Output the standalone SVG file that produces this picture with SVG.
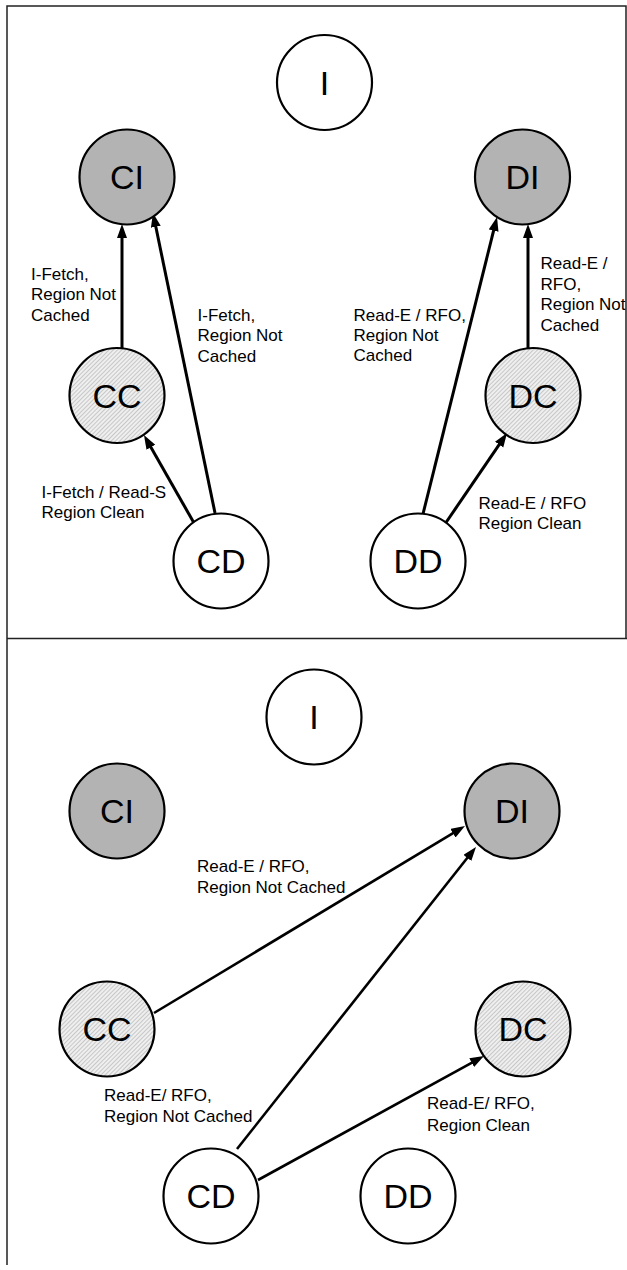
<svg xmlns="http://www.w3.org/2000/svg" width="627" height="1270" viewBox="0 0 627 1270">
<style>
.node{stroke:#000;stroke-width:2.2}
.white{fill:#fff}
.gray{fill:#b3b3b3}
.hatch{fill:url(#hatch)}
.nl{font-family:"Liberation Sans",Arial,sans-serif;font-size:34px;text-anchor:middle;fill:#000}
.lbl{font-family:"Liberation Sans",Arial,sans-serif;font-size:17px;fill:#000}
.edge{stroke:#000;stroke-width:3;fill:none;marker-end:url(#arrow)}
.edge2{stroke:#000;stroke-width:2.6;fill:none;marker-end:url(#arrow)}
.frame{stroke:#222;stroke-width:1.5;fill:none}
</style>
<defs>
<pattern id="hatch" width="3" height="3" patternUnits="userSpaceOnUse" patternTransform="rotate(45)">
<rect width="3" height="3" fill="#efefef"/>
<line x1="0.5" y1="0" x2="0.5" y2="3" stroke="#bdbdbd" stroke-width="0.8"/>
</pattern>
<marker id="arrow" markerUnits="userSpaceOnUse" markerWidth="16" markerHeight="12" refX="4" refY="5" orient="auto">
<path d="M0,0 L14,5 L0,10 z" fill="#000"/>
</marker>
</defs>
<rect width="627" height="1270" fill="#fff"/>
<g id="frame">
<path class="frame" d="M7,1265 V6 H626 V638.5 M7,638.5 H627"/>
</g>
<g id="connectors">
<line class="edge" x1="122" y1="348.3" x2="122" y2="234"/>
<line class="edge" x1="215" y1="513" x2="155" y2="222.8"/>
<line class="edge" x1="194" y1="523" x2="148.9" y2="443.7"/>
<line class="edge" x1="423" y1="514" x2="494.6" y2="226.7"/>
<line class="edge" x1="528" y1="348.3" x2="528" y2="234"/>
<line class="edge" x1="445" y1="524" x2="501.4" y2="441.3"/>
<line class="edge2" x1="154" y1="1013" x2="456.4" y2="831.2"/>
<line class="edge2" x1="237" y1="1149" x2="469.8" y2="854.8"/>
<line class="edge2" x1="258" y1="1180" x2="475.2" y2="1060.8"/>
</g>
<g id="labels">
<text class="lbl" x="31" y="280">I-Fetch,</text>
<text class="lbl" x="31" y="300.3">Region Not</text>
<text class="lbl" x="31" y="320.6">Cached</text>
<text class="lbl" x="197.5" y="321">I-Fetch,</text>
<text class="lbl" x="197.5" y="341.3">Region Not</text>
<text class="lbl" x="197.5" y="361.6">Cached</text>
<text class="lbl" x="41.5" y="497.5">I-Fetch / Read-S</text>
<text class="lbl" x="41.5" y="518">Region Clean</text>
<text class="lbl" x="353.5" y="320.6">Read-E / RFO,</text>
<text class="lbl" x="353.5" y="341">Region Not</text>
<text class="lbl" x="353.5" y="361.3">Cached</text>
<text class="lbl" x="540.5" y="269">Read-E /</text>
<text class="lbl" x="540.5" y="289.5">RFO,</text>
<text class="lbl" x="540.5" y="310">Region Not</text>
<text class="lbl" x="540.5" y="330.5">Cached</text>
<text class="lbl" x="478.5" y="508.5">Read-E / RFO</text>
<text class="lbl" x="478.5" y="529">Region Clean</text>
<text class="lbl" x="197" y="871.5">Read-E / RFO,</text>
<text class="lbl" x="197" y="893">Region Not Cached</text>
<text class="lbl" x="104" y="1100.5">Read-E/ RFO,</text>
<text class="lbl" x="104" y="1122.3">Region Not Cached</text>
<text class="lbl" x="427" y="1109">Read-E/ RFO,</text>
<text class="lbl" x="427" y="1130.5">Region Clean</text>
</g>
<g id="top-I"><circle class="node white" cx="324.5" cy="82.5" r="47.5"/><text class="nl" x="324.5" y="94.5">I</text></g>
<g id="top-CI"><circle class="node gray" cx="127" cy="177" r="47.5"/><text class="nl" x="127" y="189">CI</text></g>
<g id="top-DI"><circle class="node gray" cx="522.5" cy="177" r="47.5"/><text class="nl" x="522.5" y="189">DI</text></g>
<g id="top-CC"><circle class="node hatch" cx="117" cy="395.5" r="47.5"/><text class="nl" x="117" y="407.5">CC</text></g>
<g id="top-DC"><circle class="node hatch" cx="533" cy="395.5" r="47.5"/><text class="nl" x="533" y="407.5">DC</text></g>
<g id="top-CD"><circle class="node white" cx="221" cy="561" r="47.5"/><text class="nl" x="221" y="573">CD</text></g>
<g id="top-DD"><circle class="node white" cx="418" cy="561" r="47.5"/><text class="nl" x="418" y="573">DD</text></g>
<g id="bot-I"><circle class="node white" cx="314" cy="717" r="47.5"/><text class="nl" x="314" y="729">I</text></g>
<g id="bot-CI"><circle class="node gray" cx="117" cy="811" r="47.5"/><text class="nl" x="117" y="823">CI</text></g>
<g id="bot-DI"><circle class="node gray" cx="512" cy="811" r="47.5"/><text class="nl" x="512" y="823">DI</text></g>
<g id="bot-CC"><circle class="node hatch" cx="107" cy="1029" r="47.5"/><text class="nl" x="107" y="1041">CC</text></g>
<g id="bot-DC"><circle class="node hatch" cx="523" cy="1029" r="47.5"/><text class="nl" x="523" y="1041">DC</text></g>
<g id="bot-CD"><circle class="node white" cx="211" cy="1196" r="47.5"/><text class="nl" x="211" y="1208">CD</text></g>
<g id="bot-DD"><circle class="node white" cx="408" cy="1196" r="47.5"/><text class="nl" x="408" y="1208">DD</text></g>
</svg>
